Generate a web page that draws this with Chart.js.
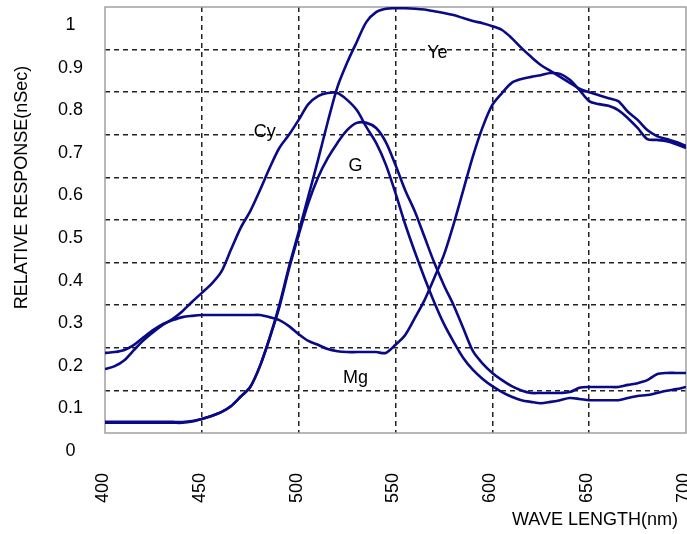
<!DOCTYPE html>
<html>
<head>
<meta charset="utf-8">
<script src="https://cdn.jsdelivr.net/npm/chart.js@4.4.0/dist/chart.umd.min.js"></script>
<style>
  html, body { margin: 0; padding: 0; background: #ffffff; }
  #c { display: block; }
</style>
</head>
<body>
<canvas id="c" width="687" height="534"></canvas>
<script>
const wavelengths = [400,405,410,415,420,425,430,435,440,445,450,455,460,465,470,475,480,485,490,495,500,505,510,515,520,525,530,535,540,545,550,555,560,565,570,575,580,585,590,595,600,605,610,615,620,625,630,635,640,645,650,655,660,665,670,675,680,685,690,695,700];

const ye = [0.026,0.026,0.026,0.026,0.026,0.026,0.026,0.026,0.026,0.028,0.033,0.040,0.049,0.063,0.085,0.108,0.157,0.223,0.300,0.390,0.472,0.556,0.641,0.730,0.812,0.869,0.918,0.965,0.988,0.996,0.997,0.997,0.996,0.994,0.990,0.986,0.981,0.974,0.967,0.962,0.955,0.946,0.927,0.904,0.883,0.864,0.850,0.836,0.822,0.808,0.800,0.793,0.786,0.779,0.754,0.735,0.711,0.697,0.690,0.683,0.674];

const cy = [0.150,0.157,0.171,0.195,0.218,0.237,0.254,0.268,0.286,0.308,0.329,0.350,0.378,0.430,0.481,0.521,0.570,0.622,0.669,0.700,0.735,0.772,0.791,0.798,0.798,0.782,0.758,0.718,0.681,0.630,0.563,0.490,0.425,0.364,0.307,0.256,0.214,0.176,0.148,0.127,0.110,0.096,0.085,0.077,0.073,0.070,0.073,0.077,0.082,0.080,0.077,0.077,0.077,0.077,0.082,0.087,0.089,0.094,0.099,0.103,0.108];

const g = [0.024,0.024,0.024,0.024,0.024,0.024,0.024,0.024,0.024,0.027,0.033,0.040,0.049,0.063,0.085,0.108,0.157,0.223,0.295,0.385,0.465,0.540,0.600,0.645,0.681,0.711,0.728,0.728,0.716,0.683,0.629,0.570,0.520,0.460,0.400,0.347,0.300,0.246,0.192,0.163,0.141,0.124,0.110,0.100,0.094,0.094,0.094,0.094,0.096,0.106,0.108,0.108,0.108,0.108,0.113,0.117,0.124,0.138,0.141,0.141,0.141];

const mg = [0.188,0.190,0.195,0.207,0.225,0.242,0.256,0.265,0.272,0.275,0.277,0.277,0.277,0.277,0.277,0.277,0.277,0.272,0.265,0.251,0.232,0.216,0.207,0.197,0.192,0.190,0.190,0.190,0.190,0.188,0.207,0.230,0.270,0.312,0.364,0.418,0.490,0.570,0.650,0.718,0.770,0.798,0.822,0.831,0.836,0.840,0.845,0.843,0.829,0.805,0.779,0.772,0.768,0.758,0.739,0.716,0.690,0.688,0.685,0.678,0.669];

const yTickLabels = ['0','0.1','0.2','0.3','0.4','0.5','0.6','0.7','0.8','0.9','1'];
const xTickLabels = ['400','450','500','550','600','650','700'];

const seriesNames = ['Ye','Cy','G','Mg'];
const labelX = [571.6, 482.5, 529.4, 529.4];
const labelY = [0.892, 0.707, 0.627, 0.129];

const xTitle = 'WAVE LENGTH(nm)';
const yTitle = 'RELATIVE RESPONSE(nSec)';

const LINE = '#0a0a86';
const FONT = 'Liberation Sans, Arial, sans-serif';

function pts(arr) { return wavelengths.map((w, i) => ({x: w, y: arr[i]})); }

const seriesData = [ye, cy, g, mg];
const datasets = seriesData.map((arr, i) => ({
  label: seriesNames[i],
  data: pts(arr),
  borderColor: LINE,
  borderWidth: 2.6,
  pointRadius: 0,
  tension: 0.3,
  fill: false
}));

const decor = {
  id: 'decor',
  beforeDatasetsDraw(chart) {
    const {ctx, chartArea: a} = chart;
    ctx.save();
    ctx.strokeStyle = '#a0a0a0';
    ctx.lineWidth = 1.5;
    ctx.strokeRect(a.left, a.top, a.right - a.left, a.bottom - a.top);
    ctx.restore();
  },
  afterDraw(chart) {
    const {ctx, scales} = chart;
    ctx.save();
    ctx.fillStyle = '#000';
    ctx.font = '18px ' + FONT;
    ctx.textAlign = 'center';
    ctx.textBaseline = 'middle';
    seriesNames.forEach((n, i) => {
      ctx.fillText(n, scales.x.getPixelForValue(labelX[i]), scales.y.getPixelForValue(labelY[i]));
    });
    ctx.textAlign = 'right';
    ctx.fillText(xTitle, 678, 520);
    ctx.translate(22, 187.5);
    ctx.rotate(-Math.PI / 2);
    ctx.textAlign = 'center';
    ctx.fillText(yTitle, 0, 0);
    ctx.restore();
  }
};

function gridColor(edgeA, edgeB) {
  return (c) => {
    const v = c.tick ? c.tick.value : null;
    if (v === null) return '#222';
    if (Math.abs(v - edgeA) < 1e-6 || Math.abs(v - edgeB) < 1e-6) return 'rgba(0,0,0,0)';
    return '#222';
  };
}

function noPad(s) {
  s.paddingLeft = 0; s.paddingRight = 0; s.paddingTop = 0; s.paddingBottom = 0;
}

new Chart(document.getElementById('c'), {
  type: 'line',
  data: { datasets },
  plugins: [decor],
  options: {
    responsive: false,
    animation: false,
    layout: { padding: { top: 7, right: 1, left: 0, bottom: 0 } },
    plugins: { legend: { display: false }, tooltip: { enabled: false } },
    scales: {
      x: {
        type: 'linear',
        min: 400, max: 700,
        afterFit(s) { s.height = 101; noPad(s); },
        afterBuildTicks(s) { s.ticks = xTickLabels.map(t => ({value: Number(t)})); },
        ticks: {
          stepSize: 50,
          autoSkip: false,
          minRotation: 90, maxRotation: 90,
          padding: 40,
          labelOffset: -2,
          color: '#000',
          font: { family: FONT, size: 18 },
          callback: (v) => xTickLabels[xTickLabels.indexOf(String(v))] ?? ''
        },
        grid: { color: gridColor(400, 700), lineWidth: 1.5, drawTicks: false },
        border: { display: false, dash: [5, 4] }
      },
      y: {
        type: 'linear',
        min: 0, max: 1,
        afterFit(s) { s.width = 105; noPad(s); },
        ticks: {
          stepSize: 0.1,
          autoSkip: false,
          crossAlign: 'center',
          padding: 22,
          labelOffset: 18,
          color: '#000',
          font: { family: FONT, size: 18 },
          callback: (v, i) => yTickLabels[i]
        },
        grid: { color: gridColor(0, 1), lineWidth: 1.5, drawTicks: false },
        border: { display: false, dash: [5, 4] }
      }
    }
  }
});
</script>
</body>
</html>
